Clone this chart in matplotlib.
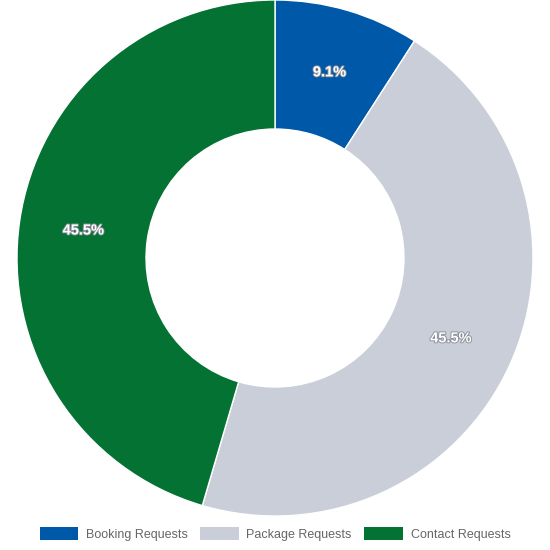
import matplotlib.pyplot as plt
import matplotlib.patheffects as pe

# request counts by type
labels = ["Booking Requests", "Package Requests", "Contact Requests"]
counts = [1, 5, 5]
colors = ["#0058a8", "#c9ced9", "#037233"]

plt.rcParams['font.family'] = ['Liberation Sans', 'DejaVu Sans']

fig = plt.figure(figsize=(5.5, 5.5), dpi=100)
ax = fig.add_axes([17 / 550, 34 / 550, 516 / 550, 516 / 550])

wedges, texts, autotexts = ax.pie(
    counts, colors=colors, startangle=90, counterclock=False,
    autopct="%.1f%%", pctdistance=0.75, radius=1,
    wedgeprops=dict(width=0.5, edgecolor="white", linewidth=1),
)
for t in autotexts:
    t.set_color("white")
    t.set_fontsize(10.5)
    t.set_fontweight("bold")
    t.set_path_effects([pe.withStroke(linewidth=1.3, foreground="#8a8f99")])

ax.set_xlim(-1, 1)
ax.set_ylim(-1, 1)
ax.set_aspect("equal")

leg = fig.legend(wedges, labels, loc="center", bbox_to_anchor=(0.5, 16 / 550),
                 ncol=3, frameon=False, fontsize=9, labelcolor="#666666",
                 handlelength=3.1, handleheight=1.2, columnspacing=1.0,
                 handletextpad=0.6)
for h in leg.legend_handles:
    h.set_edgecolor("none")

fig.savefig("out.png", dpi=100)
